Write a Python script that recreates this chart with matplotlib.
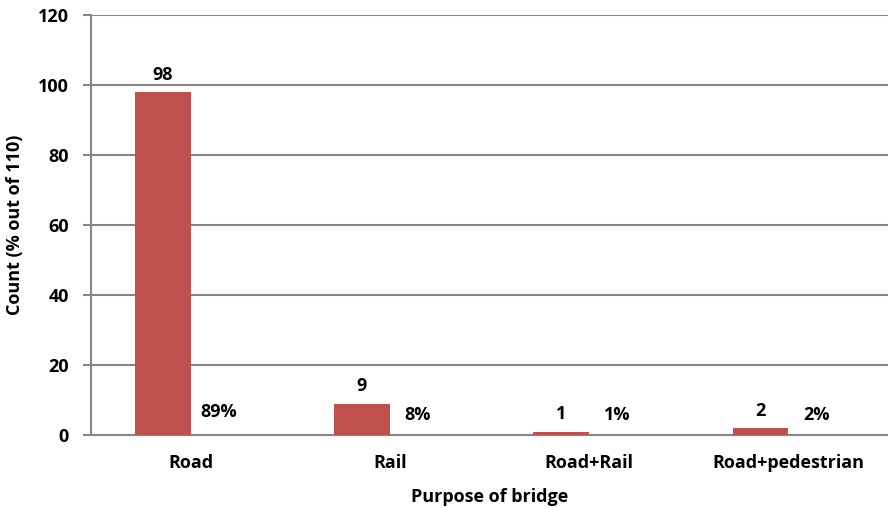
import matplotlib
matplotlib.use("Agg")
import matplotlib.pyplot as plt
import numpy as np

categories = ["Road", "Rail", "Road+Rail", "Road+pedestrian"]
counts = [98, 9, 1, 2]
percents = [89, 8, 1, 2]
y_ticks = [0, 20, 40, 60, 80, 100, 120]

plt.rcParams['font.family'] = ['Open Sans', 'DejaVu Sans']
plt.rcParams['font.weight'] = 'bold'

FS = 13
W, H = 888, 508
fig = plt.figure(figsize=(W / 100, H / 100), dpi=100)
left, right, top, bottom = 91, 888, 15, 435
ax = fig.add_axes([left / W, 1 - bottom / H, (right - left) / W, (bottom - top) / H])

x = np.arange(len(categories))
bw = 0.28
red = "#C0504D"
grid_c = "#868686"

bars1 = ax.bar(x - bw / 2, counts, bw, color=red, zorder=3)
bars2 = ax.bar(x + bw / 2, [p / 100 for p in percents], bw, color="none", zorder=3)

ax.bar_label(bars1, labels=[str(c) for c in counts], padding=6, fontsize=FS, fontweight='bold')
ax.bar_label(bars2, labels=[f"{p}%" for p in percents], padding=8, fontsize=FS, fontweight='bold')

ax.set_xlim(-0.5, 3.5)
ax.set_ylim(0, 120)
ax.set_yticks(y_ticks)
ax.set_yticklabels([str(t) for t in y_ticks], fontsize=FS, fontweight='bold')
ax.set_xticks(x)
ax.set_xticklabels(categories, fontsize=FS, fontweight='bold')
ax.tick_params(axis='x', length=0, pad=14)
ax.tick_params(axis='y', length=6, width=1.5, color=grid_c, pad=10)

ax.yaxis.grid(True, color=grid_c, linewidth=1.5, zorder=0)
ax.set_axisbelow(True)
for s in ['top', 'right']:
    ax.spines[s].set_visible(False)
for s in ['left', 'bottom']:
    ax.spines[s].set_color(grid_c)
    ax.spines[s].set_linewidth(1.5)

ax.set_xlabel("Purpose of bridge", fontsize=FS, fontweight='bold', labelpad=11)
ax.set_ylabel("Count (% out of 110)", fontsize=FS, fontweight='bold', labelpad=10)

fig.savefig("out.png", dpi=100)
